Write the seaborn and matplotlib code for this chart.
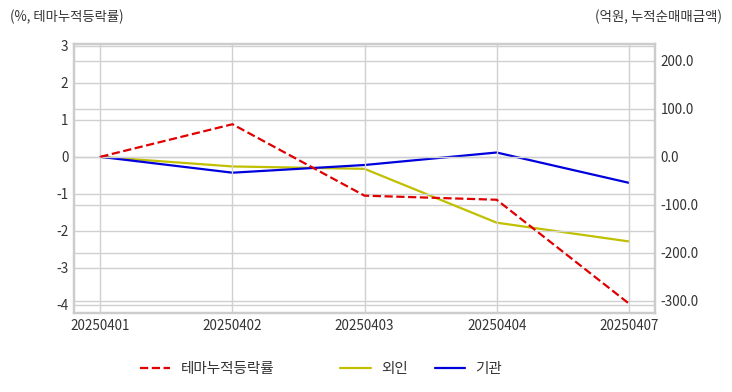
import pandas as pd
import matplotlib.pyplot as plt
import seaborn as sns

# Data
dates = ['20250401', '20250402', '20250403', '20250404', '20250407']
theme_cum = [0.0, 0.88, -1.05, -1.16, -3.96]        # %, left axis
foreign_amt = [0.0, -20.0, -25.0, -137.0, -176.0]    # 억원, right axis
inst_amt = [0.0, -33.0, -17.0, 9.0, -54.0]           # 억원, right axis

df = pd.DataFrame({'date': dates, 'theme': theme_cum,
                   'foreign': foreign_amt, 'inst': inst_amt})
df['pos'] = range(len(df))

sns.set_theme(style='whitegrid')
plt.rcParams['font.family'] = ['Noto Sans CJK KR', 'DejaVu Sans']
plt.rcParams['axes.unicode_minus'] = False

fig = plt.figure(figsize=(7.32, 3.92), dpi=100)
ax = fig.add_axes([0.101, 0.2015, 0.794, 0.6865])
ax2 = ax.twinx()

grid_kw = dict(color='#d0d0d0', linewidth=1)
sns.lineplot(data=df, x='pos', y='theme', ax=ax, color='#e00000',
             linestyle='--', linewidth=1.6, label='테마누적등락률', legend=False)
sns.lineplot(data=df, x='pos', y='foreign', ax=ax2, color='#c0c000',
             linewidth=1.6, label='외인', legend=False)
sns.lineplot(data=df, x='pos', y='inst', ax=ax2, color='#0000dd',
             linewidth=1.6, label='기관', legend=False)

ax.set_xlim(-0.2, 4.2)
ax.set_ylim(-4.22, 3.05)
ax.set_yticks([3, 2, 1, 0, -1, -2, -3, -4])
ax2.set_ylim(-325, 235)
ax2.set_yticks([200, 100, 0, -100, -200, -300])
ax2.set_yticklabels([f'{v:.1f}' for v in [200, 100, 0, -100, -200, -300]])
ax.set_xticks(df['pos'])
ax.set_xticklabels(dates)

ax.grid(True, **grid_kw)
ax2.grid(True, axis='y', **grid_kw)
ax2.grid(False, axis='x')
ax.set_zorder(ax2.get_zorder() + 1)
ax.patch.set_visible(False)

for a in (ax, ax2):
    a.set_xlabel('')
    a.set_ylabel('')
    a.tick_params(length=0, labelsize=9.7, labelcolor='#333333', pad=4)
    for s in a.spines.values():
        s.set_color('#cccccc')
        s.set_linewidth(1.6)

fig.text(0.014, 0.958, '(%, 테마누적등락률)', fontsize=9.6, color='#333333',
         ha='left', va='center')
fig.text(0.986, 0.958, '(억원, 누적순매매금액)', fontsize=9.7, color='#333333',
         ha='right', va='center')

h1, l1 = ax.get_legend_handles_labels()
h2, l2 = ax2.get_legend_handles_labels()
leg_kw = dict(loc='center left', frameon=False, fontsize=10.5,
              handlelength=2.1, handletextpad=0.7, borderpad=0,
              borderaxespad=0, labelcolor='#333333')
leg1 = fig.legend(h1, l1, bbox_to_anchor=(0.191, 0.059), ncol=1, **leg_kw)
fig.legend(h2, l2, bbox_to_anchor=(0.4645, 0.059), ncol=2,
           columnspacing=1.85, **leg_kw)

fig.savefig('out.png', dpi=100)
